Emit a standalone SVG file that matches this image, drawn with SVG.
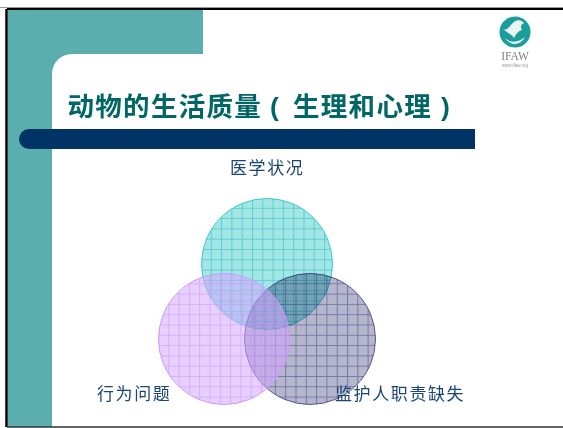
<svg xmlns="http://www.w3.org/2000/svg" width="563" height="428" viewBox="0 0 563 428">
<style>
.cjk{font-family:"Liberation Sans","Noto Sans CJK SC",sans-serif}
.lbl{font-size:17px;fill:#1c4478;letter-spacing:1.6px}
.ttl{font-size:26.500px;font-weight:bold;fill:#006666;letter-spacing:1.300px}
</style>
<defs>
<filter id="soft" x="-10%" y="-10%" width="120%" height="120%"><feGaussianBlur stdDeviation=".45"/></filter>
<pattern id="fine" width="2" height="2" patternUnits="userSpaceOnUse"><rect width="1" height="1" fill="#fff" fill-opacity=".14"/><rect x="1" y="1" width="1" height="1" fill="#fff" fill-opacity=".14"/></pattern>
<pattern id="gT" width="10.3" height="10.3" patternUnits="userSpaceOnUse" x="200.500" y="197.500"><rect width="10.3" height="10.3" fill="#9be4e4"/><rect width="10.3" height="10.3" fill="url(#fine)"/><path d="M0 .5H10.3M.5 0V10.3" stroke="#5ccfcf" fill="none"/></pattern>
<pattern id="gN" width="10.3" height="10.3" patternUnits="userSpaceOnUse" x="244" y="273"><rect width="10.3" height="10.3" fill="#b0b0c8"/><rect width="10.3" height="10.3" fill="url(#fine)"/><path d="M0 .5H10.3M.5 0V10.3" stroke="#7878a8" fill="none"/></pattern>
<pattern id="gP" width="10.3" height="10.3" patternUnits="userSpaceOnUse" x="158" y="273"><rect width="10.3" height="10.3" fill="#cc99ff" fill-opacity=".5"/><rect width="10.3" height="10.3" fill="url(#fine)"/><path d="M0 .5H10.3M.5 0V10.3" stroke="#c894f5" stroke-opacity=".55" fill="none"/></pattern>
</defs>
<rect width="563" height="428" fill="#fff"/>
<g id="background">
<path d="M8 10H203V54H72A20 20 0 0 0 52 74V427H8Z" fill="#5aaeae"/>
<path d="M0 7.500H563" stroke="#999" stroke-width="1"/>
<path d="M7 9H563" stroke="#000" stroke-width="2"/>
<path d="M6.500 9V427" stroke="#000" stroke-width="2.500"/>
<path d="M7 427H563" stroke="#333" stroke-width="1.500"/>
<path d="M29 129H475V149H29A10 10 0 0 1 29 129Z" fill="#003366"/>
</g>
<g id="logo">
<g filter="url(#soft)">
<circle cx="515" cy="32" r="15.500" fill="#1f9d9d"/>
<path d="M503 29C507 32 510 25 514 22C517 19 522 20 524 23C521 24 520 27 522 30C518 31 516 34 514 38C512 34 507 33 503 29Z" fill="#e8f5f5"/>
<path d="M505 38C510 43 518 43 525 37C520 46 510 46 505 38Z" fill="#e8f5f5"/>
</g>
<text x="515" y="60" text-anchor="middle" font-family="Liberation Serif,serif" font-size="11.500" fill="#808080" filter="url(#soft)">IFAW</text>
<text x="515" y="67" text-anchor="middle" font-family="Liberation Sans,sans-serif" font-size="4.500" fill="#9a9a9a">www.ifaw.org</text>
</g>
<g id="title"><text class="cjk ttl" y="116"><tspan x="67.500">动物的生活质量</tspan><tspan x="270">(</tspan><tspan x="293">生理和心理</tspan><tspan x="441">)</tspan></text></g>
<g id="venn-teal">
<circle cx="267" cy="264" r="65.500" fill="url(#gT)" stroke="#3fcaca" stroke-width="1"/>
<text class="cjk lbl" x="230" y="174">医学状况</text>
</g>
<g id="venn-navy">
<circle cx="310" cy="339" r="65.500" fill="url(#gN)" stroke="#55558c" stroke-width="1" style="mix-blend-mode:multiply"/>
<text class="cjk lbl" x="335" y="400">监护人职责缺失</text>
</g>
<g id="venn-purple">
<circle cx="224" cy="339" r="65.500" fill="url(#gP)" stroke="#cc99ff" stroke-width="1"/>
<text class="cjk lbl" x="97" y="400">行为问题</text>
</g>
<g id="connectors"/>
</svg>
